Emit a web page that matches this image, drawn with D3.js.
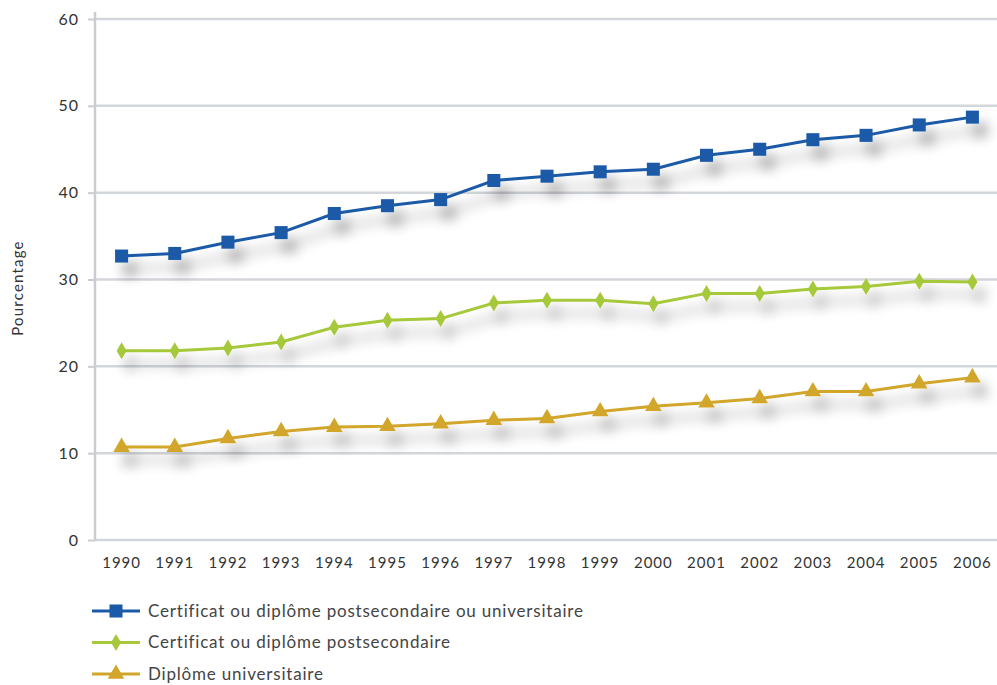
<!DOCTYPE html>
<html lang="fr">
<head>
<meta charset="utf-8">
<title>Pourcentage</title>
<style>
  html, body { margin: 0; padding: 0; background: #fff; }
  svg text { font-family: Lato, "Open Sans", sans-serif; fill: #333; }
</style>
</head>
<body>
<div id="chart"></div>
<script src="https://cdnjs.cloudflare.com/ajax/libs/d3/7.4.4/d3.min.js"></script>
<script>
// data
var years = ["1990","1991","1992","1993","1994","1995","1996","1997","1998","1999","2000","2001","2002","2003","2004","2005","2006"];
var postsecOuUniv = [32.7, 33.0, 34.3, 35.4, 37.6, 38.5, 39.2, 41.4, 41.9, 42.4, 42.7, 44.3, 45.0, 46.1, 46.6, 47.8, 48.7];
var postsec = [21.8, 21.8, 22.1, 22.8, 24.5, 25.3, 25.5, 27.3, 27.6, 27.6, 27.2, 28.4, 28.4, 28.9, 29.2, 29.8, 29.7];
var univ = [10.7, 10.7, 11.7, 12.5, 13.0, 13.1, 13.4, 13.8, 14.0, 14.8, 15.4, 15.8, 16.3, 17.1, 17.1, 18.0, 18.7];
var yTicks = [0, 10, 20, 30, 40, 50, 60];
var seriesNames = [
  "Certificat ou diplôme postsecondaire ou universitaire",
  "Certificat ou diplôme postsecondaire",
  "Diplôme universitaire"
];

var series = [
  { name: seriesNames[0], values: postsecOuUniv, color: "#1a5aa8", marker: "square" },
  { name: seriesNames[1], values: postsec, color: "#a6c83a", marker: "diamond" },
  { name: seriesNames[2], values: univ, color: "#d1a62a", marker: "triangle" }
];

var W = 997, H = 685;
var mLeft = 95, mRight = 999, mTop = 19, mBottom = 540;

var svg = d3.select("#chart").append("svg")
  .attr("width", W).attr("height", H);

// soft drop shadow under the lines
var defs = svg.append("defs");
var f = defs.append("filter").attr("id", "shadow")
  .attr("x", "-10%").attr("y", "-60%").attr("width", "125%").attr("height", "340%");
f.append("feGaussianBlur").attr("in", "SourceAlpha").attr("stdDeviation", 6.5).attr("result", "b");
f.append("feOffset").attr("in", "b").attr("dx", 8).attr("dy", 13).attr("result", "o");
f.append("feComponentTransfer").attr("in", "o").attr("result", "s")
  .append("feFuncA").attr("type", "linear").attr("slope", 0.38);
var m = f.append("feMerge");
m.append("feMergeNode").attr("in", "s");
m.append("feMergeNode").attr("in", "SourceGraphic");

var x = d3.scaleBand().domain(years).range([mLeft, mRight]);
var y = d3.scaleLinear().domain([0, 60]).range([mBottom, mTop]);
var cx = function(d, i) { return x(years[i]) + x.bandwidth() / 2; };

// grid + y axis
var yAxis = svg.append("g")
  .attr("transform", "translate(" + mLeft + ",0)")
  .call(d3.axisLeft(y).tickValues(yTicks).tickSize(7).tickPadding(9));
yAxis.select(".domain").remove();
yAxis.selectAll(".tick line").attr("stroke", "#c9cdd1").attr("stroke-width", 2);
yAxis.selectAll(".tick text").attr("font-size", 16).attr("letter-spacing", 1).style("fill", "#333");

svg.append("g").selectAll("line").data(yTicks).enter().append("line")
  .attr("x1", mLeft).attr("x2", W)
  .attr("y1", function(d) { return y(d); }).attr("y2", function(d) { return y(d); })
  .attr("stroke", "#d3d6da").attr("stroke-width", 2.5);

svg.append("line")
  .attr("x1", mLeft).attr("x2", mLeft).attr("y1", 12).attr("y2", mBottom)
  .attr("stroke", "#c9cdd1").attr("stroke-width", 2.5);

// x axis labels
var xAxis = svg.append("g")
  .attr("transform", "translate(0," + mBottom + ")")
  .call(d3.axisBottom(x).tickSize(0).tickPadding(17));
xAxis.select(".domain").remove();
xAxis.selectAll(".tick text").attr("font-size", 15).attr("letter-spacing", 1).style("fill", "#333");

svg.append("text")
  .attr("transform", "translate(23," + 288 + ") rotate(-90)")
  .attr("text-anchor", "middle")
  .attr("font-size", 15)
  .attr("letter-spacing", 1.2)
  .text("Pourcentage");

var symbols = {
  square: d3.symbol().type(d3.symbolSquare).size(170),
  diamond: function() { return "M0,-8.5L5,0L0,8.5L-5,0Z"; },
  triangle: d3.symbol().type(d3.symbolTriangle).size(120)
};

var line = d3.line().x(cx).y(function(d) { return y(d); });

series.forEach(function(s) {
  var g = svg.append("g").attr("filter", "url(#shadow)");
  g.append("path")
    .datum(s.values)
    .attr("d", line)
    .attr("fill", "none")
    .attr("stroke", s.color)
    .attr("stroke-width", 3);
  g.selectAll("path.pt").data(s.values).enter().append("path")
    .attr("class", "pt")
    .attr("transform", function(d, i) { return "translate(" + cx(d, i) + "," + y(d) + ")"; })
    .attr("d", symbols[s.marker])
    .attr("fill", s.color);
});

// legend
var leg = svg.append("g");
series.forEach(function(s, i) {
  var ly = 611 + i * 31.5;
  var row = leg.append("g").attr("transform", "translate(0," + ly + ")");
  row.append("line").attr("x1", 92).attr("x2", 140).attr("y1", 0).attr("y2", 0)
    .attr("stroke", s.color).attr("stroke-width", 3);
  row.append("path").attr("transform", "translate(116,0)")
    .attr("d", symbols[s.marker]).attr("fill", s.color);
  row.append("text").attr("x", 148).attr("y", 0).attr("dy", "0.35em")
    .attr("font-size", 17).attr("letter-spacing", 0.8).style("fill", "#444").text(s.name);
});
</script>
</body>
</html>
